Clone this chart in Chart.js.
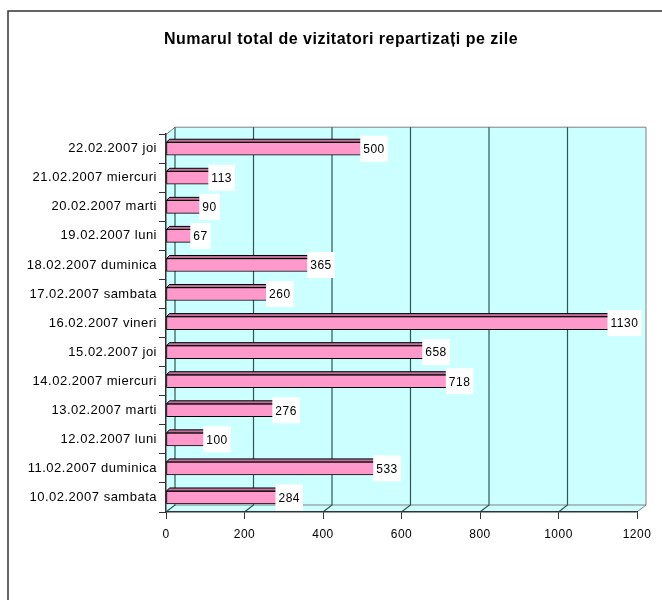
<!DOCTYPE html>
<html>
<head>
<meta charset="utf-8">
<script src="https://cdn.jsdelivr.net/npm/chart.js@4"></script>
<style>
  html, body { margin: 0; padding: 0; background: #fff; }
  #wrap { width: 662px; height: 600px; }
</style>
</head>
<body>
<div id="wrap"><canvas id="myChart" width="662" height="600"></canvas></div>
<script>
// date labels, chronological (drawn bottom -> top)
var zile = ['10.02.2007 sambata', '11.02.2007 duminica', '12.02.2007 luni', '13.02.2007 marti',
            '14.02.2007 miercuri', '15.02.2007 joi', '16.02.2007 vineri', '17.02.2007 sambata',
            '18.02.2007 duminica', '19.02.2007 luni', '20.02.2007 marti', '21.02.2007 miercuri',
            '22.02.2007 joi'];
var vizitatori = [284, 533, 100, 276, 718, 658, 1130, 260, 365, 67, 90, 113, 500];
var titlu = 'Numarul total de vizitatori repartizați pe zile';

var FONT = "'Liberation Sans', Arial, sans-serif";
var DX = 9, DY = 7; // depth of the 3d walls

// excel text looks a bit spaced out
const spacing = {
    id: 'spacing',
    beforeLayout(chart) { chart.ctx.letterSpacing = '0.5px'; },
    // labels are wider than the y box -> don't let them get clipped
    afterLayout(chart) { chart.scales.y.left = 0; },
    beforeDraw(chart) { chart.ctx.letterSpacing = '0.5px'; }
};

// cyan walls + back gridlines, like the old excel 3d bar
const walls = {
    id: 'walls',
    beforeDraw(chart) {
        const c = chart.ctx, a = chart.chartArea, xs = chart.scales.x;
        c.save();
        // outer frame (only top/left visible)
        c.strokeStyle = '#333';
        c.lineWidth = 1.5;
        c.beginPath();
        c.moveTo(8, 700); c.lineTo(8, 11); c.lineTo(700, 11);
        c.stroke();

        c.fillStyle = '#ccffff';
        c.strokeStyle = '#808080';
        c.lineWidth = 1;
        // back wall
        c.fillRect(a.left + DX, a.top - DY, a.right - a.left, a.bottom - a.top);
        // left wall
        c.beginPath();
        c.moveTo(a.left, a.top); c.lineTo(a.left + DX, a.top - DY);
        c.lineTo(a.left + DX, a.bottom - DY); c.lineTo(a.left, a.bottom);
        c.closePath(); c.fill();
        // floor
        c.beginPath();
        c.moveTo(a.left, a.bottom); c.lineTo(a.left + DX, a.bottom - DY);
        c.lineTo(a.right + DX, a.bottom - DY); c.lineTo(a.right, a.bottom);
        c.closePath(); c.fill();
        // outline of back wall
        c.beginPath();
        c.moveTo(a.left, a.top + 0.5); c.lineTo(a.left + DX, a.top - DY);
        c.lineTo(a.right + DX, a.top - DY); c.lineTo(a.right + DX, a.bottom - DY);
        c.lineTo(a.right, a.bottom);
        c.moveTo(a.left + DX, a.bottom - DY); c.lineTo(a.right + DX, a.bottom - DY);
        c.stroke();
        // gridlines on the back wall + floor diagonals
        c.strokeStyle = '#2f5656';
        c.lineWidth = 1.2;
        xs.ticks.forEach(function(t) {
            const px = xs.getPixelForValue(t.value);
            if (t.value >= 1200) return;
            c.beginPath();
            c.moveTo(px + DX, a.top - DY);
            c.lineTo(px + DX, a.bottom - DY);
            c.lineTo(px, a.bottom);
            c.stroke();
        });
        c.restore();
    }
};

// top/side face of the bars + value boxes
const faces = {
    id: 'faces',
    afterDatasetsDraw(chart) {
        const c = chart.ctx;
        const meta = chart.getDatasetMeta(0);
        c.save();
        c.lineWidth = 1;
        c.strokeStyle = '#000';
        c.font = '12px ' + FONT;
        c.textBaseline = 'middle';
        meta.data.forEach(function(bar, i) {
            const p = bar.getProps(['x', 'y', 'base', 'height'], true);
            const x0 = p.base, x1 = p.x, yt = p.y - p.height / 2, yb = p.y + p.height / 2;
            const d = 3;
            c.fillStyle = '#c0709a';
            c.beginPath();
            c.moveTo(x0, yt); c.lineTo(x0 + d, yt - d); c.lineTo(x1 + d, yt - d); c.lineTo(x1, yt);
            c.closePath(); c.fill(); c.stroke();
            c.fillStyle = '#d9669f';
            c.beginPath();
            c.moveTo(x1, yt); c.lineTo(x1 + d, yt - d); c.lineTo(x1 + d, yb - d); c.lineTo(x1, yb);
            c.closePath(); c.fill(); c.stroke();

            const txt = String(vizitatori[i]);
            const w = c.measureText(txt).width + 6;
            const bx = x1 - 2;
            c.fillStyle = '#fff';
            c.fillRect(bx, p.y - 13, w, 26);
            c.fillStyle = '#000';
            c.fillText(txt, bx + 3, p.y + 1);
        });
        c.restore();
    }
};

const ctx = document.getElementById('myChart').getContext('2d');
const myChart = new Chart(ctx, {
    type: 'bar',
    data: {
        labels: zile,
        datasets: [{
            label: 'vizitatori',
            data: vizitatori,
            backgroundColor: '#ff99cc',
            borderColor: '#000',
            borderWidth: 1,
            borderSkipped: false,
            barThickness: 13
        }]
    },
    options: {
        indexAxis: 'y',
        responsive: false,
        animation: false,
        layout: { padding: { left: 45, right: 25, top: 12, bottom: 0 } },
        plugins: {
            legend: { display: false },
            tooltip: { enabled: false },
            title: {
                display: true,
                text: titlu,
                color: '#000',
                font: { family: FONT, size: 16, weight: 'bold' },
                padding: { top: 18, bottom: 85 }
            }
        },
        scales: {
            x: {
                min: 0,
                max: 1200,
                ticks: {
                    stepSize: 200, color: '#000', padding: 8, font: { family: FONT, size: 12 },
                    callback: function(v) { return String(v); }
                },
                grid: { drawOnChartArea: false, drawTicks: true, tickLength: 7, color: '#333' },
                border: { color: '#333', width: 1.5 },
                afterFit: function(s) { s.height = 88; }
            },
            y: {
                reverse: true,
                ticks: { color: '#000', padding: 2, font: { family: FONT, size: 13 } },
                grid: { drawOnChartArea: false, drawTicks: true, tickLength: 7, color: '#333' },
                border: { color: '#333', width: 1.5 },
                afterFit: function(s) { s.width = 121; }
            }
        }
    },
    plugins: [spacing, walls, faces]
});
</script>
</body>
</html>
